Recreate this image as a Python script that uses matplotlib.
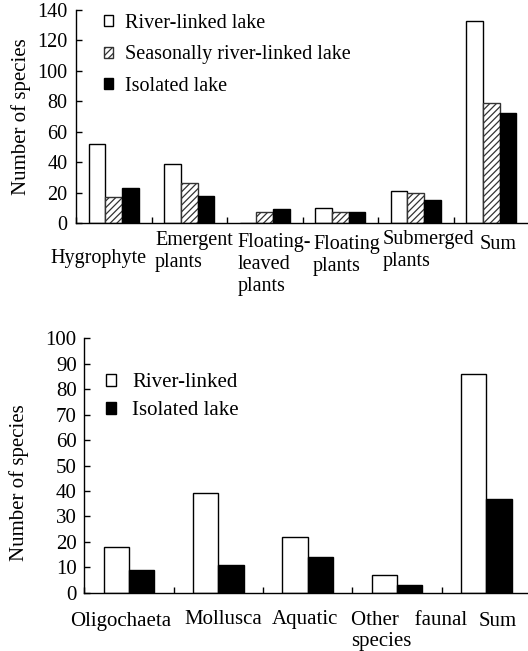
import matplotlib
matplotlib.use("Agg")
from matplotlib import pyplot as plt
from matplotlib.patches import Patch
import numpy as np

plt.rcParams['font.family'] = ['Liberation Serif', 'DejaVu Serif']
plt.rcParams['hatch.linewidth'] = 0.9

# plants (top panel)
plant_groups = ['Hygrophyte', 'Emergent\nplants', 'Floating-\nleaved\nplants',
                'Floating\nplants', 'Submerged\nplants', 'Sum']
plant_river = [52, 39, 0, 10, 21, 133]
plant_seasonal = [17, 26, 7, 7, 20, 79]
plant_isolated = [23, 18, 9, 7, 15, 72]
plant_series = ['River-linked lake', 'Seasonally river-linked lake', 'Isolated lake']
plant_yticks = [0, 20, 40, 60, 80, 100, 120, 140]

# fauna (bottom panel)
fauna_groups = ['Oligochaeta', 'Mollusca', 'Aquatic', 'Other   faunal\nspecies', 'Sum']
fauna_river = [18, 39, 22, 7, 86]
fauna_isolated = [9, 11, 14, 3, 37]
fauna_series = ['River-linked', 'Isolated lake']
fauna_yticks = [0, 10, 20, 30, 40, 50, 60, 70, 80, 90, 100]

W, H = 528, 651
fig = plt.figure(figsize=(W / 100, H / 100), dpi=100)


def px_axes(left, top, right, bottom):
	return fig.add_axes([left / W, 1 - bottom / H, (right - left) / W, (bottom - top) / H])


def style_axis(ax, fs, pad):
	for s in ['top', 'right']:
		ax.spines[s].set_visible(False)
	for s in ['left', 'bottom']:
		ax.spines[s].set_linewidth(1.0)
	ax.tick_params(axis='y', direction='in', length=4, width=1, labelsize=fs, pad=pad)
	ax.tick_params(axis='x', direction='in', length=4, width=1, labelbottom=False)


styles = [dict(facecolor='white', edgecolor='black', hatch=None),
          dict(facecolor='white', edgecolor='#333333', hatch='/////'),
          dict(facecolor='black', edgecolor='black', hatch=None)]

# ---------- top panel ----------
fs1 = 14.5
ax1 = px_axes(76, 10, 529, 223)
x = np.arange(len(plant_groups)) + 0.5
bw = 0.222
for i, vals in enumerate([plant_river, plant_seasonal, plant_isolated]):
	ax1.bar(x + (i - 1) * bw, vals, width=bw, linewidth=1.0, **styles[i])
ax1.set_xlim(0, len(plant_groups))
ax1.set_ylim(0, 140)
ax1.set_yticks(plant_yticks)
ax1.set_xticks(np.arange(len(plant_groups)))
style_axis(ax1, fs1, 6)
fig.text(21 / W, 1 - 116.5 / H, 'Number of species', rotation=90, ha='center', va='center', fontsize=fs1 + 0.5)

label_pos1 = [(50.7, 249), (155, 231), (237.7, 233), (313, 235), (383, 230), (480, 235)]
for name, (lx, ly) in zip(plant_groups, label_pos1):
	fig.text(lx / W, 1 - ly / H, name, ha='left', va='top', fontsize=fs1, linespacing=1.2)

h1 = [Patch(linewidth=1.0, **styles[i]) for i in range(3)]
ax1.legend(h1, plant_series, loc='upper left', bbox_to_anchor=(104 / W, 1 - 14 / H),
           bbox_transform=fig.transFigure, frameon=False, fontsize=fs1,
           handlelength=0.45, handleheight=0.45, handletextpad=0.6,
           labelspacing=0.62, borderpad=0, borderaxespad=0)

# ---------- bottom panel ----------
fs2 = 15
ax2 = px_axes(84.3, 338.3, 531, 592.7)
x2 = np.arange(len(fauna_groups)) + 0.5
bw2 = 0.284
ax2.bar(x2 - bw2 / 2, fauna_river, width=bw2, linewidth=1.0, **styles[0])
ax2.bar(x2 + bw2 / 2, fauna_isolated, width=bw2, linewidth=1.0, **styles[2])
ax2.set_xlim(0, len(fauna_groups))
ax2.set_ylim(0, 100)
ax2.set_yticks(fauna_yticks)
ax2.set_xticks(np.arange(len(fauna_groups)))
style_axis(ax2, fs2, 5.5)
fig.text(19 / W, 1 - 483 / H, 'Number of species', rotation=90, ha='center', va='center', fontsize=fs2)

label_pos2 = [(70, 612), (184.3, 610), (271.7, 610), (351, 611), (478.3, 612)]
for name, (lx, ly) in zip(fauna_groups, label_pos2):
	fig.text(lx / W, 1 - ly / H, name, ha='left', va='top', fontsize=fs2, linespacing=1.15)

h2 = [Patch(linewidth=1.0, **styles[0]), Patch(linewidth=1.0, **styles[2])]
ax2.legend(h2, fauna_series, loc='upper left', bbox_to_anchor=(106 / W, 1 - 373 / H),
           bbox_transform=fig.transFigure, frameon=False, fontsize=fs2,
           handlelength=0.5, handleheight=0.5, handletextpad=0.75,
           labelspacing=0.45, borderpad=0, borderaxespad=0)

plt.savefig('out.png', dpi=100)
plt.close()
